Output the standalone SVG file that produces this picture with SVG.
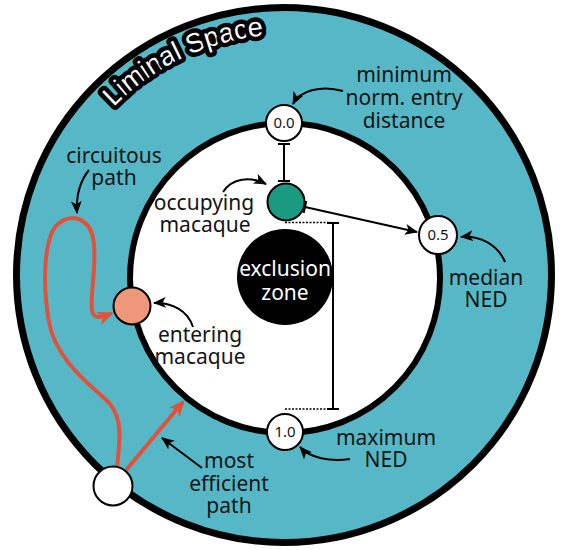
<svg xmlns="http://www.w3.org/2000/svg" width="562" height="550" viewBox="0 0 562 550">
  <defs>
    <style>
      .lbl{font-family:"Noto Sans","Open Sans","DejaVu Sans",sans-serif;font-size:21px;fill:#141414;text-anchor:middle}
      .num{font-family:"Noto Sans","Open Sans",sans-serif;font-size:15px;fill:#141414;text-anchor:middle}
      .node{fill:#fff;stroke:#000;stroke-width:2}
      .ann{fill:none;stroke:#000;stroke-width:2;marker-end:url(#ah)}
      .bar{stroke:#000;stroke-width:2;marker-start:url(#tb);marker-end:url(#tb)}
      .red{fill:none;stroke:#e0523c;stroke-width:4;stroke-linecap:round;stroke-linejoin:round;marker-end:url(#rh)}
      .dot{stroke:#000;stroke-width:1.3;stroke-dasharray:2 1.5}
      .halo{font-family:"Liberation Sans",Arial,sans-serif;font-size:27px;fill:#fff;stroke:#000;stroke-width:9;stroke-linejoin:round;paint-order:stroke}
    </style>
    <marker id="ah" markerUnits="userSpaceOnUse" markerWidth="13" markerHeight="11" refX="11" refY="5" orient="auto" viewBox="0 0 12 10">
      <path d="M0,0 L12,5 L0,10 L3,5 z" fill="#000"/>
    </marker>
    <marker id="tb" markerUnits="userSpaceOnUse" markerWidth="4" markerHeight="12" refX="2" refY="6" orient="auto" viewBox="0 0 4 12">
      <path d="M2,0 V12" stroke="#000" stroke-width="2"/>
    </marker>
    <marker id="rh" markerUnits="userSpaceOnUse" markerWidth="16" markerHeight="14" refX="12" refY="7" orient="auto" viewBox="0 0 16 14">
      <path d="M0,0 L16,7 L0,14 L4,7 z" fill="#e0523c"/>
    </marker>
    <!-- baseline arc for the ring title -->
    <path id="arcLabel" d="M100.3,122 A242,242 0 0 1 405,65.4"/>
  </defs>

  <!-- ring: liminal space and inner enclosure -->
  <g id="ring">
    <circle cx="284" cy="275" r="267.5" fill="#56b8c7" stroke="#000" stroke-width="7"/>
    <circle cx="285" cy="278" r="155" fill="#fff" stroke="#000" stroke-width="6"/>
    <text class="halo"><textPath href="#arcLabel" startOffset="20">Liminal Space</textPath></text>
  </g>

  <!-- connectors -->
  <g id="connectors">
    <path class="red" d="M117,467 C120,440 123,420 110,404 C95,388 56,362 49,322 C42,282 44,236 58,224 C72,212 92,218 94,245 C96,272 90,295 92,310 C93,319 100,318 110,314"/>
    <path class="red" d="M127,469 L182,403"/>

    <line class="bar" x1="284" y1="144" x2="284" y2="181"/>
    <line x1="305" y1="207" x2="417" y2="232" stroke="#000" stroke-width="2" marker-start="url(#tb)" marker-end="url(#ah)"/>
    <line class="dot" x1="285" y1="222.5" x2="331" y2="222.5"/>
    <line class="dot" x1="285" y1="409" x2="331" y2="409"/>
    <line class="bar" x1="333" y1="223" x2="333" y2="409"/>

    <path class="ann" d="M343,91 C322,85 300,90 293,104"/>
    <path class="ann" d="M89,170 C80,181 76,196 77,213"/>
    <path class="ann" d="M223,192 C232,178 250,176 266,184"/>
    <path class="ann" d="M193,327 C188,311 172,302 154,303"/>
    <path class="ann" d="M505,262 C498,245 480,235 461,237"/>
    <path class="ann" d="M350,459 C330,462 310,458 300,447"/>
    <path class="ann" d="M202,468 L162,438"/>
  </g>

  <g id="exclusion-zone">
    <circle cx="285" cy="277" r="48" fill="#000"/>
    <text class="lbl" x="285" y="276" style="fill:#fff">exclusion</text>
    <text class="lbl" x="285" y="300" style="fill:#fff">zone</text>
  </g>

  <g id="min-ned">
    <circle class="node" cx="284" cy="123" r="18"/>
    <text class="num" x="284" y="128">0.0</text>
    <text class="lbl" x="404" y="82">minimum</text>
    <text class="lbl" x="404" y="105">norm. entry</text>
    <text class="lbl" x="404" y="128">distance</text>
  </g>

  <g id="median-ned">
    <circle class="node" cx="438" cy="235" r="19"/>
    <text class="num" x="438" y="240">0.5</text>
    <text class="lbl" x="486" y="285">median</text>
    <text class="lbl" x="486" y="307">NED</text>
  </g>

  <g id="max-ned">
    <circle class="node" cx="285" cy="432" r="18"/>
    <text class="num" x="285" y="437">1.0</text>
    <text class="lbl" x="386" y="445">maximum</text>
    <text class="lbl" x="386" y="467">NED</text>
  </g>

  <g id="occupying-macaque">
    <circle cx="286" cy="202" r="18.5" fill="#1a9b81" stroke="#000" stroke-width="2"/>
    <text class="lbl" x="204" y="210">occupying</text>
    <text class="lbl" x="205" y="232">macaque</text>
  </g>

  <g id="entering-macaque">
    <circle cx="132" cy="306" r="18.5" fill="#ee977a" stroke="#000" stroke-width="2"/>
    <text class="lbl" x="200" y="342">entering</text>
    <text class="lbl" x="200" y="364">macaque</text>
  </g>

  <g id="start">
    <circle class="node" cx="113" cy="486" r="19.5"/>
  </g>

  <g id="circuitous-label">
    <text class="lbl" x="114" y="163">circuitous</text>
    <text class="lbl" x="114" y="185">path</text>
  </g>

  <g id="efficient-label">
    <text class="lbl" x="229" y="468">most</text>
    <text class="lbl" x="229" y="491">efficient</text>
    <text class="lbl" x="229" y="513">path</text>
  </g>
</svg>
